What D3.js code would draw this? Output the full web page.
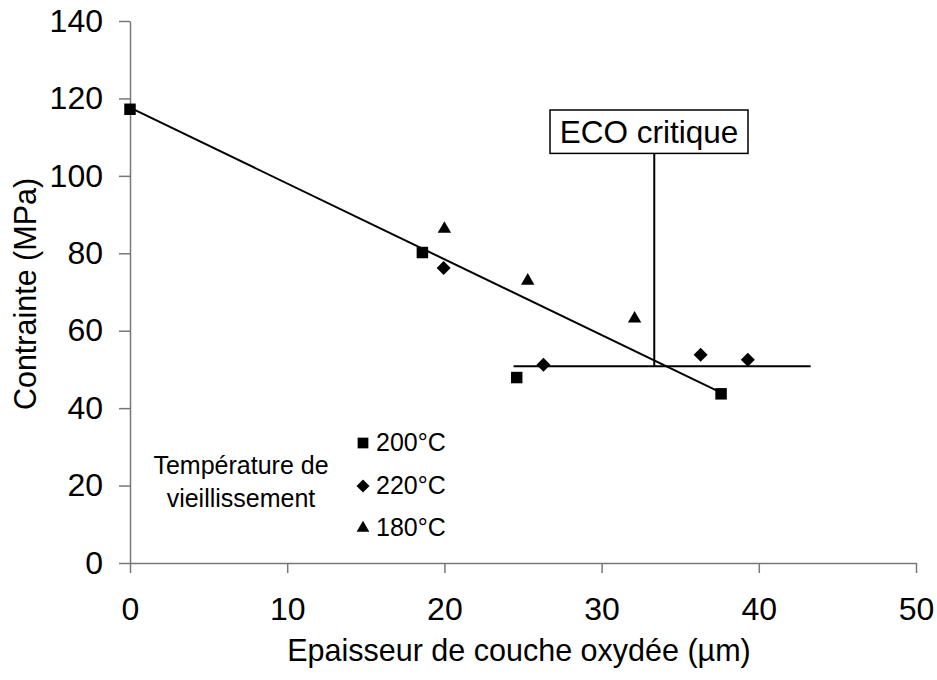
<!DOCTYPE html>
<html><head><meta charset="utf-8">
<script src="https://cdn.jsdelivr.net/npm/d3@7"></script>
<style>body{margin:0;background:#fff}svg{display:block}text{font-family:"Liberation Sans",Arial,sans-serif;fill:#000}</style>
</head><body><svg id="c" width="937" height="680"></svg>
<script>
// Data
const xTicks = [0, 10, 20, 30, 40, 50];
const yTicks = [0, 20, 40, 60, 80, 100, 120, 140];
const t200X = [0, 18.6, 24.6, 37.6];
const t200Y = [117.2, 80.2, 47.9, 43.7];
const t220X = [19.95, 26.3, 36.3, 39.3];
const t220Y = [76.2, 51.2, 53.8, 52.5];
const t180X = [20.0, 25.3, 32.1];
const t180Y = [86.3, 72.9, 63.1];
const fitX = [0, 37.3];
const fitY = [117.6, 44.6];
const plateauX = [24.4, 43.3];
const plateauY = [50.8, 50.8];
const ecoX = [33.35, 33.35];
const ecoY = [50.8, 105.8];
const ecoLabel = "ECO critique";
const legendLabels = ["200°C", "220°C", "180°C"];
const legendTitle = ["Température de", "vieillissement"];
const xTitle = "Epaisseur de couche oxydée (µm)";
const yTitle = "Contrainte (MPa)";

const svg = d3.select("#c");
const x = d3.scaleLinear().domain([0, 50]).range([130, 916]);
const y = d3.scaleLinear().domain([0, 140]).range([563, 21]);

// Axes
const axisColor = "#777";
const gx = svg.append("g").attr("transform", `translate(0,${y(0)})`)
  .call(d3.axisBottom(x).tickValues(xTicks).tickSize(10).tickSizeOuter(0).tickPadding(24));
const gy = svg.append("g").attr("transform", `translate(${x(0)},0)`)
  .call(d3.axisLeft(y).tickValues(yTicks).tickSize(11).tickSizeOuter(0).tickPadding(16));
[gx, gy].forEach(g => {
  g.select(".domain").attr("stroke", axisColor).attr("stroke-width", 1.5);
  g.selectAll(".tick line").attr("stroke", axisColor).attr("stroke-width", 1.5);
  g.selectAll(".tick text").attr("font-family", '"Liberation Sans",Arial,sans-serif').attr("font-size", 32).attr("fill", "#000");
});
gx.selectAll(".tick text").attr("dy", "0.71em");

svg.append("text").attr("x", 519).attr("y", 661).attr("text-anchor", "middle").attr("font-size", 30.5).text(xTitle);
svg.append("text").attr("transform", "translate(36,294) rotate(-90)").attr("text-anchor", "middle").attr("font-size", 30.5).text(yTitle);

// Lines
const line = d3.line().x(d => x(d[0])).y(d => y(d[1]));
function drawLine(xs, ys) {
  svg.append("path").attr("d", line(xs.map((v, i) => [v, ys[i]])))
    .attr("fill", "none").attr("stroke", "#000").attr("stroke-width", 2);
}
drawLine(fitX, fitY);
drawLine(plateauX, plateauY);
drawLine(ecoX, ecoY);

// Markers
const sqSym = d3.symbol().type(d3.symbolSquare).size(132)();
const diaSym = d3.symbol().type(d3.symbolSquare).size(98)();
const triSym = d3.symbol().type(d3.symbolTriangle).size(78)();
function drawPts(xs, ys, path, rot) {
  svg.append("g").selectAll("path").data(xs.map((v, i) => [v, ys[i]])).join("path")
    .attr("d", path).attr("fill", "#000")
    .attr("transform", d => `translate(${x(d[0])},${y(d[1])}) rotate(${rot})`);
}
drawPts(t200X, t200Y, sqSym, 0);
drawPts(t220X, t220Y, diaSym, 45);
drawPts(t180X, t180Y, triSym, 0);

// ECO box
const boxG = svg.append("g");
boxG.append("rect").attr("x", 550).attr("y", 110).attr("width", 198).attr("height", y(ecoY[1]) - 110)
  .attr("fill", "#fff").attr("stroke", "#000").attr("stroke-width", 1.5);
boxG.append("text").attr("x", 649).attr("y", 143).attr("text-anchor", "middle").attr("font-size", 31.5).text(ecoLabel);

// Legend
const legYs = [443, 486, 528];
legendLabels.forEach((lab, i) => {
  const s = i === 0 ? d3.symbol().type(d3.symbolSquare).size(115)() : (i === 1 ? d3.symbol().type(d3.symbolSquare).size(85)() : d3.symbol().type(d3.symbolTriangle).size(70)());
  svg.append("path").attr("d", s).attr("fill", "#000")
    .attr("transform", `translate(363,${legYs[i]}) rotate(${i === 1 ? 45 : 0})`);
  svg.append("text").attr("x", 376).attr("y", legYs[i] + 8).attr("font-size", 25).text(lab);
});
legendTitle.forEach((t, i) => {
  svg.append("text").attr("x", 241).attr("y", 474 + i * 33).attr("text-anchor", "middle").attr("font-size", 25).text(t);
});
</script></body></html>
